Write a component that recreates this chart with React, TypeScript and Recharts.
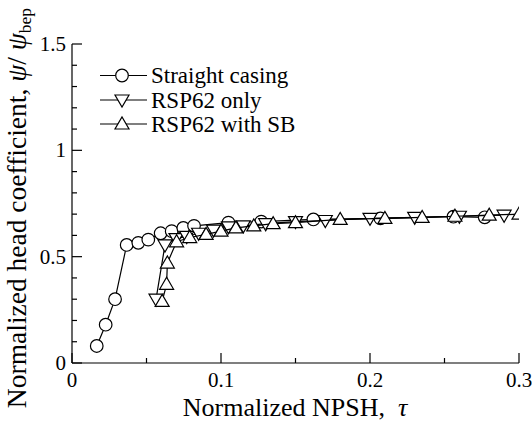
import React from 'react';
import { ScatterChart, Scatter, XAxis, YAxis, Legend } from 'recharts';

const tauStraight = [0.0166, 0.0226, 0.0289, 0.0367, 0.0445, 0.0512, 0.0595, 0.0669, 0.0747, 0.0819, 0.105, 0.127, 0.162, 0.207, 0.256, 0.277];
const psiStraight = [0.08, 0.18, 0.30, 0.555, 0.565, 0.58, 0.61, 0.62, 0.635, 0.645, 0.66, 0.665, 0.675, 0.68, 0.688, 0.685];

const tauOnly = [0.0564, 0.0624, 0.0698, 0.077, 0.085, 0.095, 0.105, 0.115, 0.13, 0.15, 0.17, 0.2, 0.23, 0.26, 0.29];
const psiOnly = [0.30, 0.555, 0.585, 0.595, 0.61, 0.625, 0.64, 0.645, 0.655, 0.665, 0.67, 0.68, 0.685, 0.69, 0.695];

const tauSB = [0.0605, 0.0635, 0.064, 0.0702, 0.079, 0.09, 0.1, 0.11, 0.122, 0.135, 0.15, 0.18, 0.21, 0.235, 0.257, 0.28, 0.3];
const psiSB = [0.29, 0.37, 0.47, 0.57, 0.59, 0.605, 0.62, 0.635, 0.645, 0.655, 0.66, 0.675, 0.68, 0.685, 0.69, 0.695, 0.70];

const xTicks = [0, 0.05, 0.1, 0.15, 0.2, 0.25, 0.3];
const yTicks = [0, 0.1, 0.2, 0.3, 0.4, 0.5, 0.6, 0.7, 0.8, 0.9, 1.0, 1.1, 1.2, 1.3, 1.4, 1.5];
const xLabels: Record<string, string> = { '0': '0', '0.1': '0.1', '0.2': '0.2', '0.3': '0.3' };
const yLabels: Record<string, string> = { '0': '0', '0.5': '0.5', '1': '1', '1.5': '1.5' };

const seriesNames = ['Straight casing', 'RSP62 only', 'RSP62 with SB'];

const toData = (t: number[], p: number[]) => t.map((x, i) => ({ x, y: p[i] }));
const dStraight = toData(tauStraight, psiStraight);
const dOnly = toData(tauOnly, psiOnly);
const dSB = toData(tauSB, psiSB);

const FONT = '"Liberation Serif", "Times New Roman", "DejaVu Serif", serif';
const SW = 1.2;
const ts = (size: number, extra: any = {}) => ({ fontFamily: FONT, fontSize: size, ...extra });

const isMajor = (v: number, step: number) => Math.abs(v / step - Math.round(v / step)) < 1e-6;

const Circle = (p: any) => <circle cx={p.cx} cy={p.cy} r={6.3} fill="#fff" stroke="#000" strokeWidth={SW} />;
const Down = (p: any) => (
  <polygon points={`${p.cx - 7},${p.cy - 5} ${p.cx + 7},${p.cy - 5} ${p.cx},${p.cy + 7}`} fill="#fff" stroke="#000" strokeWidth={SW} />
);
const Up = (p: any) => (
  <polygon points={`${p.cx - 7},${p.cy + 5} ${p.cx + 7},${p.cy + 5} ${p.cx},${p.cy - 7}`} fill="#fff" stroke="#000" strokeWidth={SW} />
);

const BottomTick = (props: any) => {
  const { x, y, payload } = props;
  const v = payload.value;
  const major = isMajor(v, 0.1);
  const len = major ? 10 : 5;
  const lbl = xLabels[String(v)];
  return (
    <g>
      <line x1={x} y1={y} x2={x} y2={y - len} stroke="#000" strokeWidth={SW} />
      {lbl !== undefined && (
        <text x={x} y={y + 24} textAnchor="middle" style={ts(21)} fill="#000">{lbl}</text>
      )}
    </g>
  );
};
const TopTick = (props: any) => {
  const { x, y, payload } = props;
  const len = isMajor(payload.value, 0.1) ? 10 : 5;
  return <line x1={x} y1={y} x2={x} y2={y + len} stroke="#000" strokeWidth={SW} />;
};
const LeftTick = (props: any) => {
  const { x, y, payload } = props;
  const v = payload.value;
  const len = isMajor(v, 0.5) ? 10 : 5;
  const lbl = yLabels[String(v)];
  return (
    <g>
      <line x1={x} y1={y} x2={x + len} y2={y} stroke="#000" strokeWidth={SW} />
      {lbl !== undefined && (
        <text x={x - 6} y={y + 7} textAnchor="end" style={ts(21)} fill="#000">{lbl}</text>
      )}
    </g>
  );
};
const RightTick = (props: any) => {
  const { x, y, payload } = props;
  const len = isMajor(payload.value, 0.5) ? 10 : 5;
  return <line x1={x} y1={y} x2={x - len} y2={y} stroke="#000" strokeWidth={SW} />;
};

const LegendBox = () => {
  const rows = [15.5, 40, 64];
  const shapes = [Circle, Down, Up];
  return (
    <svg width={280} height={80} style={{ overflow: 'visible' }}>
      {rows.map((ry, i) => {
        const S = shapes[i];
        return (
          <g key={i}>
            <line x1={5} y1={ry} x2={52} y2={ry} stroke="#000" strokeWidth={SW} />
            <S cx={27} cy={ry} />
            <text x={56} y={ry + 7.5} style={ts(23)} fill="#000">{seriesNames[i]}</text>
          </g>
        );
      })}
    </svg>
  );
};

export default function App() {
  return (
    <div style={{ position: 'absolute', left: 0, top: 0, width: 532, height: 426, background: '#fff' }}>
      <ScatterChart width={532} height={426} margin={{ top: 44, right: 13, bottom: 0, left: 0 }}>
        <XAxis
          xAxisId="b"
          dataKey="x"
          type="number"
          domain={[0, 0.3]}
          ticks={xTicks}
          interval={0}
          height={63}
          tickSize={0}
          tickMargin={0}
          tickLine={false}
          axisLine={{ stroke: '#000', strokeWidth: SW }}
          tick={BottomTick}
          allowDataOverflow
        />
        <XAxis
          xAxisId="t"
          orientation="top"
          dataKey="x"
          type="number"
          domain={[0, 0.3]}
          ticks={xTicks}
          interval={0}
          height={0}
          tickSize={0}
          tickMargin={0}
          tickLine={false}
          axisLine={{ stroke: '#000', strokeWidth: SW }}
          tick={TopTick}
          allowDataOverflow
        />
        <YAxis
          yAxisId="l"
          dataKey="y"
          type="number"
          domain={[0, 1.5]}
          ticks={yTicks}
          interval={0}
          width={72}
          tickSize={0}
          tickMargin={0}
          tickLine={false}
          axisLine={{ stroke: '#000', strokeWidth: SW }}
          tick={LeftTick}
          allowDataOverflow
        />
        <YAxis
          yAxisId="r"
          orientation="right"
          dataKey="y"
          type="number"
          domain={[0, 1.5]}
          ticks={yTicks}
          interval={0}
          width={0}
          tickSize={0}
          tickMargin={0}
          tickLine={false}
          axisLine={{ stroke: '#000', strokeWidth: SW }}
          tick={RightTick}
          allowDataOverflow
        />
        <Scatter
          name={seriesNames[0]}
          data={dStraight}
          xAxisId="b"
          yAxisId="l"
          line={{ stroke: '#000', strokeWidth: SW }}
          lineType="joint"
          shape={Circle}
          isAnimationActive={false}
        />
        <Scatter
          name={seriesNames[1]}
          data={dOnly}
          xAxisId="b"
          yAxisId="l"
          line={{ stroke: '#000', strokeWidth: SW }}
          lineType="joint"
          shape={Down}
          isAnimationActive={false}
        />
        <Scatter
          name={seriesNames[2]}
          data={dSB}
          xAxisId="b"
          yAxisId="l"
          line={{ stroke: '#000', strokeWidth: SW }}
          lineType="joint"
          shape={Up}
          isAnimationActive={false}
        />
        <Legend
          layout="vertical"
          align="center"
          verticalAlign="middle"
          content={LegendBox}
          wrapperStyle={{ position: 'absolute', left: 95, top: 60, width: 280, height: 80 }}
        />
        <text x={295} y={416} textAnchor="middle" style={ts(26)} fill="#000">
          Normalized NPSH,{'\u00a0\u00a0'}<tspan fontStyle="italic">τ</tspan>
        </text>
        <text
          transform="translate(26, 208) rotate(-90)"
          textAnchor="middle"
          style={ts(27.5)}
          fill="#000"
        >
          Normalized head coefficient,{'\u00a0'}<tspan fontStyle="italic">ψ</tspan>/{'\u00a0'}<tspan fontStyle="italic">ψ</tspan>
          <tspan fontSize={17.5} dy={5}>bep</tspan>
        </text>
      </ScatterChart>
    </div>
  );
}
